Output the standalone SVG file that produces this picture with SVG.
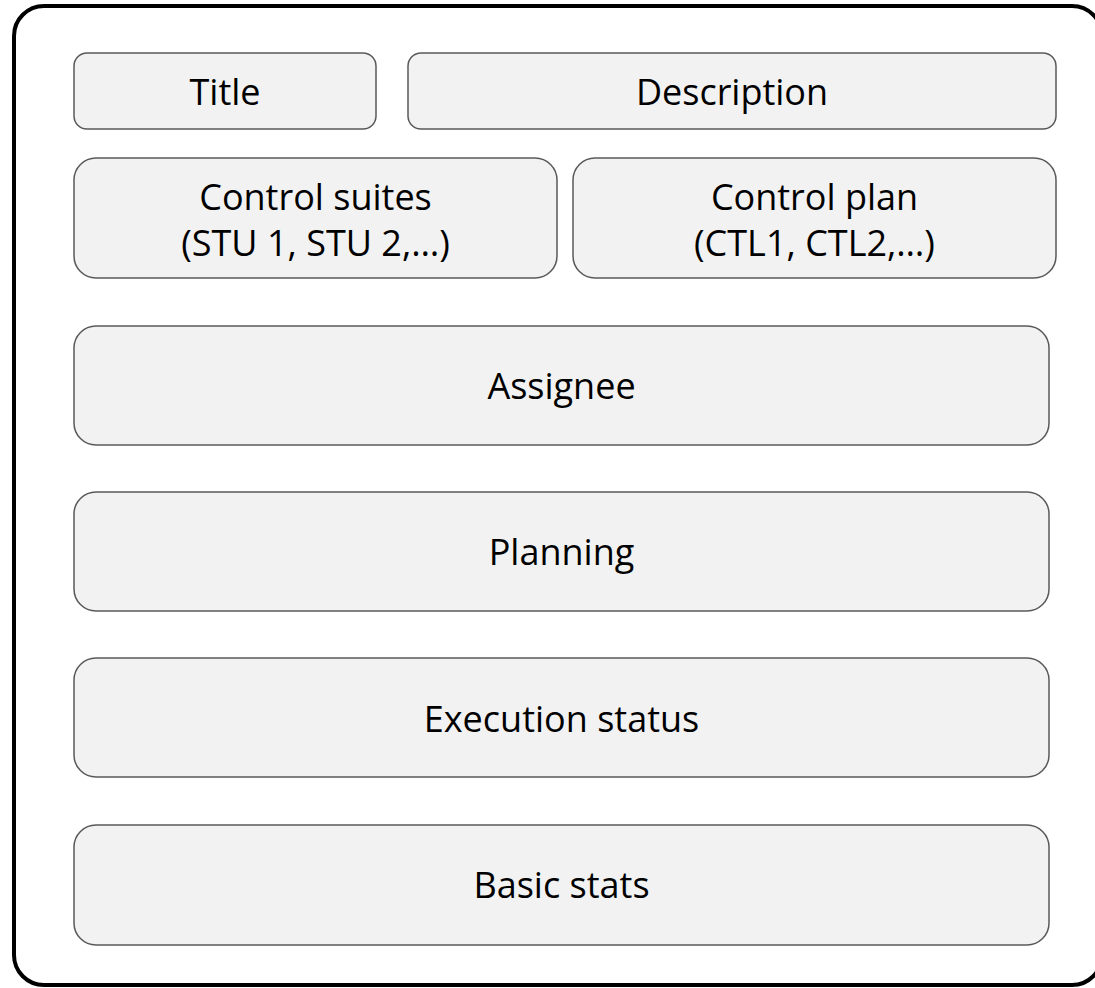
<svg xmlns="http://www.w3.org/2000/svg" width="1095" height="988" viewBox="0 0 1095 988">
<style>
.frame{fill:#ffffff;stroke:#000000;stroke-width:4}
.box{fill:#f2f2f2;stroke:#595959;stroke-width:1.5}
.lbl{font-family:"Open Sans","Liberation Sans",sans-serif;font-size:36px;fill:#000000;text-anchor:middle}
</style>
<rect x="0" y="0" width="1095" height="988" fill="#ffffff"/>
<g id="frame"><rect class="frame" x="14" y="6" width="1088" height="979" rx="30" ry="30"/></g>
<g id="title"><rect class="box" x="74" y="53" width="302" height="76" rx="13"/><text class="lbl" x="225" y="105">Title</text></g>
<g id="description"><rect class="box" x="408" y="53" width="648" height="76" rx="13"/><text class="lbl" x="732" y="105">Description</text></g>
<g id="control-suites"><rect class="box" x="74" y="158" width="483" height="120" rx="22"/><text class="lbl" x="315.5" y="210">Control suites</text><text class="lbl" x="315.5" y="256">(STU 1, STU 2,…)</text></g>
<g id="control-plan"><rect class="box" x="573" y="158" width="483" height="120" rx="22"/><text class="lbl" x="814.5" y="210">Control plan</text><text class="lbl" x="814.5" y="256">(CTL1, CTL2,…)</text></g>
<g id="assignee"><rect class="box" x="74" y="326" width="975" height="119" rx="22"/><text class="lbl" x="561.5" y="399">Assignee</text></g>
<g id="planning"><rect class="box" x="74" y="492" width="975" height="119" rx="22"/><text class="lbl" x="561.5" y="565">Planning</text></g>
<g id="execution-status"><rect class="box" x="74" y="658" width="975" height="119" rx="22"/><text class="lbl" x="561.5" y="732">Execution status</text></g>
<g id="basic-stats"><rect class="box" x="74" y="825" width="975" height="120" rx="22"/><text class="lbl" x="561.5" y="898">Basic stats</text></g>
<g id="connectors"></g>
</svg>
